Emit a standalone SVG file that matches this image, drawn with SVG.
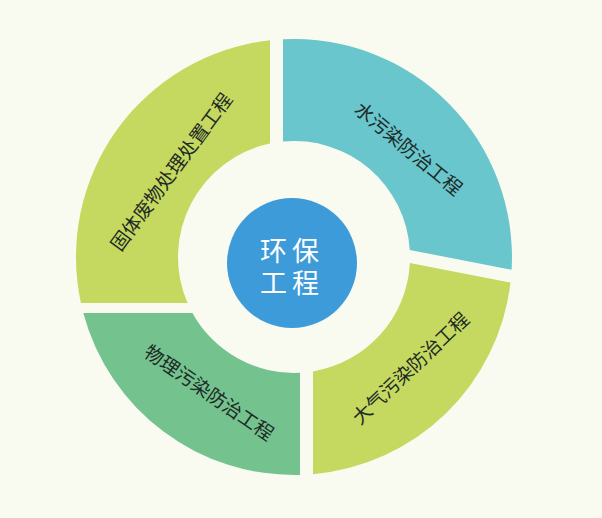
<svg xmlns="http://www.w3.org/2000/svg" width="602" height="518" viewBox="0 0 602 518">
<style>
.lbl{font-family:"Noto Sans CJK SC","Noto Sans",sans-serif;font-size:19px;fill:#1e2a26;text-anchor:middle;dominant-baseline:central}
.ctr{font-family:"Noto Sans CJK SC","Noto Sans",sans-serif;font-size:27px;fill:#ffffff;text-anchor:middle;dominant-baseline:central;letter-spacing:5px}
.lime{fill:#c5d960}
.teal{fill:#69c6cd}
.green{fill:#74c38f}
.blue{fill:#3e9bd9}
</style>
<rect width="602" height="518" fill="#f9fbf0"/>
<g id="solid-waste">
<path class="lime" d="M270,40.3 A218,218 0 0 0 80.9,303 L187.5,303 A116,116 0 0 1 270,143.5 Z"/>
<text class="lbl" transform="translate(170,171) rotate(-53.6)">固体废物处理处置工程</text>
</g>
<g id="water">
<path class="teal" d="M283,39.3 A218,218 0 0 1 511.6,269.7 L409.8,250 A116,116 0 0 0 283,141.5 Z"/>
<text class="lbl" transform="translate(409.5,147.5) rotate(39.7)">水污染防治工程</text>
</g>
<g id="air">
<path class="lime" d="M510.5,282.5 A218,218 0 0 1 313,474.2 L313,371.4 A116,116 0 0 0 409.9,263 Z"/>
<text class="lbl" transform="translate(409.5,367) rotate(-43.5)">大气污染防治工程</text>
</g>
<g id="physical">
<path class="green" d="M300,474.9 A218,218 0 0 1 83.3,313 L192.4,313 A116,116 0 0 0 300,372.8 Z"/>
<text class="lbl" transform="translate(210,391.5) rotate(34.6)">物理污染防治工程</text>
</g>
<g id="center">
<circle class="blue" cx="292" cy="263" r="65"/>
<text class="ctr"><tspan x="292" y="248.5">环保</tspan><tspan x="292" y="281">工程</tspan></text>
</g>
<g id="connectors"/>
</svg>
